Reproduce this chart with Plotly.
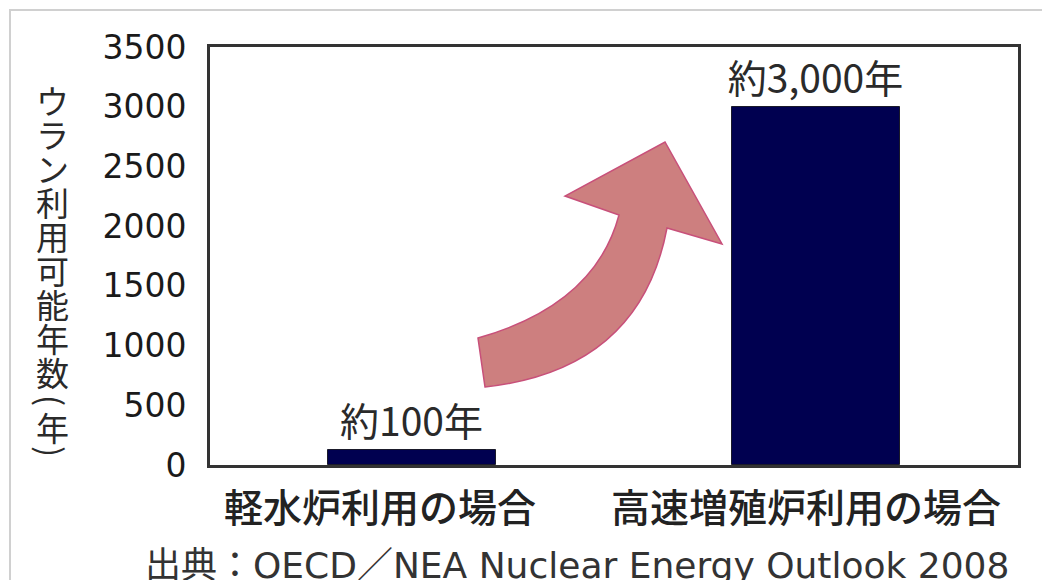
import plotly.graph_objects as go

# ---------------- data ----------------
categories = ["軽水炉利用の場合", "高速増殖炉利用の場合"]
years = [125, 3000]
value_labels = ["約100年", "約3,000年"]
y_ticks = [0, 500, 1000, 1500, 2000, 2500, 3000, 3500]
y_title_chars = ["ウ", "ラ", "ン", "利", "用", "可", "能", "年", "数", "(", "年", ")"]
source_text = "出典：OECD／NEA Nuclear Energy Outlook 2008"

# ---------------- layout geometry (page pixels) ----------------
OFF = 8                      # page body margin
FW, FH = 1042, 572           # figure size
L, R, T, B = 210, 1018, 47, 465   # plot area in page pixels


def px(xp):
    return (xp - L) / (R - L)


def py(yp):
    return (B - yp) / (B - T)


CJK = "Noto Sans CJK JP"
LAT = "DejaVu Sans"

fig = go.Figure()
fig.add_trace(go.Bar(
    x=[0, 1], y=years, width=0.416,
    marker=dict(color="#000050", line=dict(color="#1a1a2a", width=1)),
    text=value_labels, textposition="outside", constraintext="none",
    textfont=dict(family=CJK, size=39, color="#2a2a2a"),
    cliponaxis=False, hoverinfo="skip",
))

annotations = []
# y-axis title (vertical, stacked)
title_y = [100, 134, 168, 202, 236, 270, 304, 338, 372, 400, 427, 451]
for ch, yy in zip(y_title_chars, title_y):
    rot = 90 if ch in "()" else 0
    annotations.append(dict(
        text=ch, x=px(52), y=py(yy), xref="paper", yref="paper",
        xanchor="center", yanchor="middle", showarrow=False, textangle=rot,
        font=dict(family=CJK, size=33, color="#2a2a2a"),
    ))
# category labels
cat_x = [380, 806]
for cat, cx in zip(categories, cat_x):
    annotations.append(dict(
        text=cat, x=px(cx), y=py(505), xref="paper", yref="paper",
        xanchor="center", yanchor="middle", showarrow=False,
        font=dict(family=CJK, size=39, color="#222222", weight=500),
    ))
# source
annotations.append(dict(
    text=source_text, x=px(577), y=py(565), xref="paper", yref="paper",
    xanchor="center", yanchor="middle", showarrow=False,
    font=dict(family=LAT + ", " + CJK, size=36, color="#333333"),
))


# curved arrow decoration (page pixels -> paper)
def P(x, y):
    return f"{px(x):.5f},{py(y):.5f}"


arrow_path = (
    f"M {P(478,338)} Q {P(595,305)} {P(619,215)} L {P(565,196)} L {P(665,142)} "
    f"L {P(722,244)} L {P(667,228)} Q {P(640,370)} {P(485,387)} Z"
)
shapes = [
    dict(type="path", path=arrow_path, xref="paper", yref="paper",
         fillcolor="#cd7f7f", line=dict(color="#c8507a", width=1.5), layer="above"),
    dict(type="rect", x0=px(10), x1=px(1070), y0=py(10), y1=py(600),
         xref="paper", yref="paper", line=dict(color="#d0d0d0", width=2),
         fillcolor="rgba(0,0,0,0)", layer="below"),
]

fig.update_layout(
    width=FW, height=FH,
    margin=dict(l=L - OFF, r=OFF + FW - R, t=T - OFF, b=OFF + FH - B),
    paper_bgcolor="white", plot_bgcolor="white",
    showlegend=False,
    annotations=annotations, shapes=shapes,
    bargap=0,
)
fig.update_xaxes(
    range=[-0.5, 1.5], showticklabels=False, ticks="", showgrid=False,
    zeroline=False, showline=True, mirror=True, linecolor="#333333", linewidth=3,
    fixedrange=True,
)
fig.update_yaxes(
    range=[0, 3500], tickvals=y_ticks, ticks="", showgrid=False, zeroline=False,
    showline=True, mirror=True, linecolor="#333333", linewidth=3,
    tickfont=dict(family=LAT, size=33, color="#1a1a1a"),
    ticklabelstandoff=14, fixedrange=True,
)

fig.write_html("out.html")
